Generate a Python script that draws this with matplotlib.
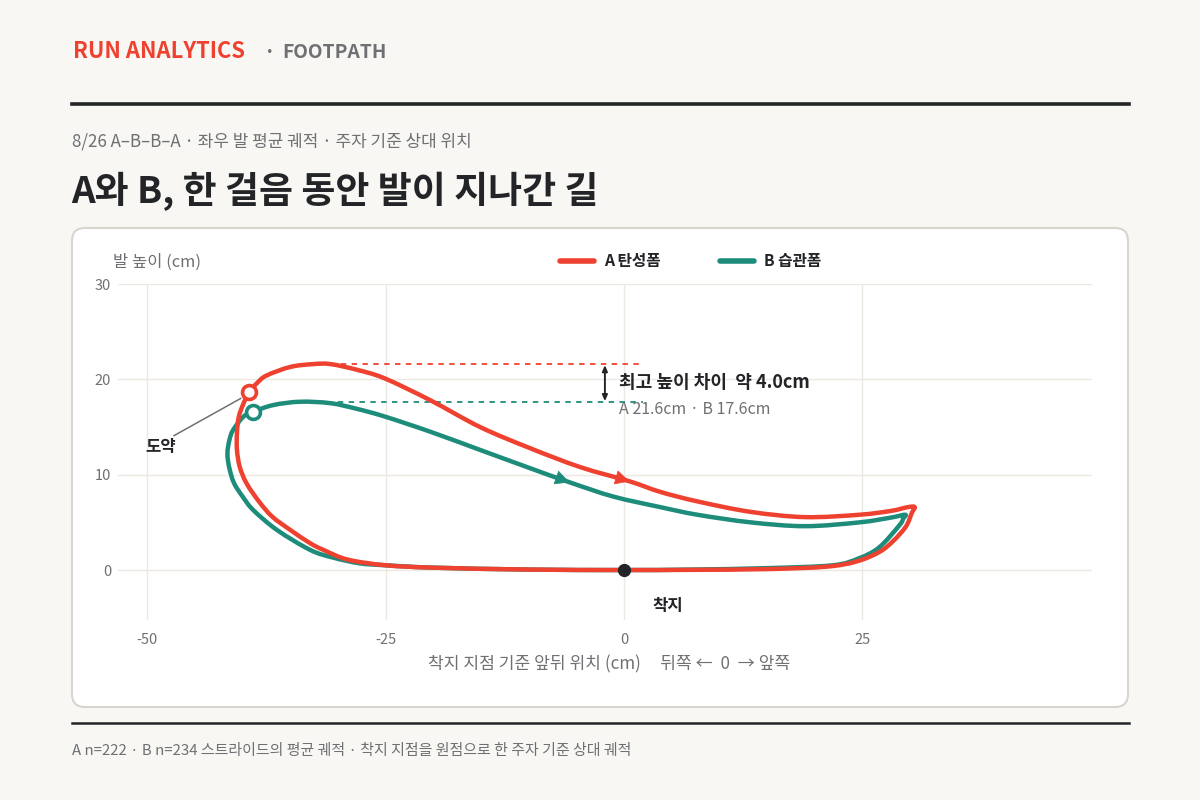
import matplotlib
matplotlib.use("Agg")
import matplotlib.pyplot as plt
from matplotlib.patches import FancyBboxPatch, PathPatch
from matplotlib.path import Path
from matplotlib.lines import Line2D

plt.rcParams['font.family'] = ['Noto Sans CJK KR', 'DejaVu Sans']
plt.rcParams['axes.unicode_minus'] = False

# colours
RED = '#ef4130'
GREEN = '#1e8c7a'
INK = '#222427'
GREY = '#6e7073'
BG = '#f8f7f4'

# A (탄성폼) loop, landing -> stance -> toe-off -> swing -> landing
A_x = [0, -10, -20, -25, -29, -31.5, -32.9, -35.0, -36.9, -38.3, -39.6, -40.3, -40.6, -40.6,
       -40.4, -39.9, -39.3, -38.5, -37.5, -35.0, -32.6, -30.8, -28.0, -25.1, -20.3, -15.1,
       -9.9, -4.6, 0.6, 3.8, 7.7, 13.3, 19.0, 24.7, 28.0, 29.8, 30.5, 30.2, 29.6, 28.3,
       26.8, 24.4, 21.2, 15.0, 7.0, 0]
A_y = [0, 0.05, 0.25, 0.5, 1.1, 2.1, 2.8, 4.2, 5.6, 7.2, 9.1, 10.8, 12.6, 14.4,
       16.1, 17.5, 18.7, 19.6, 20.4, 21.3, 21.6, 21.6, 21.0, 20.1, 17.8, 15.0,
       12.8, 10.8, 9.3, 8.2, 7.2, 6.1, 5.55, 5.8, 6.2, 6.6, 6.6, 6.0, 4.6, 3.1,
       1.9, 0.9, 0.35, 0.1, 0.02, 0]

# B (습관폼) loop
B_x = [0, -10, -20, -25, -27.7, -30.5, -32.9, -36.4, -38.9, -40.0, -40.9, -41.4, -41.6,
       -41.4, -41.0, -39.9, -38.9, -36.8, -34.0, -30.8, -28.0, -25.1, -20.3, -15.1,
       -9.9, -5.7, -1.1, 3.8, 7.7, 13.3, 19.0, 24.7, 28.0, 29.5, 29.3, 28.9, 26.8,
       24.7, 21.9, 15.0, 7.0, 0]
B_y = [0, 0.05, 0.25, 0.5, 0.7, 1.3, 2.1, 4.2, 6.3, 7.7, 9.1, 10.7, 12.2,
       13.6, 14.7, 16.1, 16.6, 17.3, 17.65, 17.5, 16.9, 16.1, 14.5, 12.6,
       10.7, 9.2, 7.7, 6.6, 5.8, 5.0, 4.6, 5.0, 5.5, 5.8, 5.4, 4.7, 2.4,
       1.25, 0.5, 0.2, 0.05, 0]

A_toeoff = (-39.3, 18.7)
B_toeoff = (-38.9, 16.6)
A_peak = 21.6
B_peak = 17.6
A_arrow = [(-4.6, 10.8), (0.6, 9.3)]
B_arrow = [(-9.9, 10.7), (-5.7, 9.2)]

x_ticks = [-50, -25, 0, 25]
y_ticks = [0, 10, 20, 30]


def smooth_loop(xs, ys):
    # closed loop through every point, drawn as cubic bezier segments
    pts = list(zip(xs[:-1], ys[:-1]))
    n = len(pts)
    verts = [pts[0]]
    codes = [Path.MOVETO]
    for i in range(n):
        p0 = pts[i - 1]
        p1 = pts[i]
        p2 = pts[(i + 1) % n]
        p3 = pts[(i + 2) % n]
        c1 = (p1[0] + (p2[0] - p0[0]) / 6, p1[1] + (p2[1] - p0[1]) / 6)
        c2 = (p2[0] - (p3[0] - p1[0]) / 6, p2[1] - (p3[1] - p1[1]) / 6)
        verts += [c1, c2, p2]
        codes += [Path.CURVE4] * 3
    return Path(verts, codes)


fig = plt.figure(figsize=(12, 8), dpi=100)
fig.patch.set_facecolor(BG)

# card behind the plot
card = FancyBboxPatch((0.72, 0.93), 10.56, 4.79,
                      boxstyle="round,pad=0,rounding_size=0.13",
                      transform=fig.dpi_scale_trans, facecolor='white',
                      edgecolor='#d8d5ce', linewidth=1.5, zorder=-5)
fig.patches.append(card)

# header
fig.text(73/1200, 1-58/800, 'RUN ANALYTICS', color=RED, fontsize=15.8,
         fontweight='bold', va='baseline')
fig.text(264/1200, 1-58/800, '·', color=GREY, fontsize=14, fontweight='bold', va='baseline')
fig.text(282/1200, 1-58/800, 'FOOTPATH', color=GREY, fontsize=13.8, fontweight='bold',
         va='baseline')
fig.add_artist(Line2D([72/1200, 1129/1200], [1-104/800]*2, color=INK, lw=2.6))
fig.text(72/1200, 1-147/800, '8/26 A–B–B–A · 좌우 발 평균 궤적 · 주자 기준 상대 위치',
         color=GREY, fontsize=12.2, va='baseline')
fig.text(71/1200, 1-203/800, 'A와 B, 한 걸음 동안 발이 지나간 길', color=INK,
         fontsize=26.6, fontweight='bold', va='baseline')

# footer
fig.add_artist(Line2D([72/1200, 1129/1200], [1-723/800]*2, color=INK, lw=1.8))
fig.text(72/1200, 1-755/800,
         'A n=222 · B n=234 스트라이드의 평균 궤적 · 착지 지점을 원점으로 한 주자 기준 상대 궤적',
         color=GREY, fontsize=10.8, va='baseline')

# axes
ax = fig.add_axes([118/1200, 1-620/800, 974/1200, 336/800])
ax.set_facecolor('none')
ax.set_xlim(-53.08, 49.1)
ax.set_ylim(-5.24, 30)
for s in ax.spines.values():
    s.set_visible(False)
ax.set_xticks(x_ticks)
ax.set_yticks(y_ticks)
ax.tick_params(length=0, labelsize=10.5, labelcolor=GREY)
ax.tick_params(axis='x', pad=9)
ax.tick_params(axis='y', pad=5)
ax.grid(True, color='#ece9e3', lw=1)
ax.set_axisbelow(True)

ax.add_patch(PathPatch(smooth_loop(B_x, B_y), fill=False, edgecolor=GREEN, lw=3.2,
                       joinstyle='round', capstyle='round', zorder=3))
ax.add_patch(PathPatch(smooth_loop(A_x, A_y), fill=False, edgecolor=RED, lw=3.2,
                       joinstyle='round', capstyle='round', zorder=4))

# direction arrows
for (p0, p1), c in [(A_arrow, RED), (B_arrow, GREEN)]:
    ax.annotate('', xy=p1, xytext=p0,
                arrowprops=dict(arrowstyle='-|>,head_length=0.8,head_width=0.4',
                                mutation_scale=12, color=c, lw=0.5,
                                shrinkA=0, shrinkB=0), zorder=5)

# peak dashed lines + difference arrow
ax.plot([-30.8, 2.0], [A_peak]*2, color=RED, lw=1.3, ls=(0, (3, 3)), zorder=2)
ax.plot([-31.2, 2.0], [B_peak]*2, color=GREEN, lw=1.3, ls=(0, (3, 3)), zorder=2)
ax.annotate('', xy=(-2.0, A_peak - 0.1), xytext=(-2.0, B_peak + 0.1),
            arrowprops=dict(arrowstyle='<|-|>,head_length=0.35,head_width=0.15',
                            color=INK, lw=1.4, shrinkA=0, shrinkB=0), zorder=5)
ax.text(-0.5, 19.7, '최고 높이 차이  약 4.0cm', color=INK, fontsize=13,
        fontweight='bold', va='center', ha='left')
ax.text(-0.5, 16.8, f'A {A_peak}cm · B {B_peak}cm', color=GREY, fontsize=11.5,
        va='center', ha='left')

# toe-off markers
ax.plot(*A_toeoff, 'o', ms=10, mfc='white', mec=RED, mew=2.6, zorder=6)
ax.plot(*B_toeoff, 'o', ms=10, mfc='white', mec=GREEN, mew=2.6, zorder=6)
ax.plot([-47.2, -40.2], [14.1, 18.0], color=GREY, lw=1.1, zorder=5)
ax.text(-48.6, 12.9, '도약', color=INK, fontsize=12, fontweight='bold',
        ha='center', va='center')

# landing point
ax.plot(0, 0, 'o', ms=8.5, color=INK, zorder=7)
ax.text(4.6, -3.8, '착지', color=INK, fontsize=12, fontweight='bold',
        ha='center', va='center')

# axis labels
fig.text(113/1200, 1-262/800, '발 높이 (cm)', color=GREY, fontsize=11.9, va='center')
fig.text(609/1200, 1-664/800, '착지 지점 기준 앞뒤 위치 (cm)     뒤쪽 ←  0  → 앞쪽',
         color=GREY, fontsize=12.3, va='center', ha='center')

# legend
ly = 1-261/800
fig.add_artist(Line2D([560/1200, 594/1200], [ly]*2, color=RED, lw=4, solid_capstyle='round'))
fig.text(604/1200, ly, 'A 탄성폼', color=INK, fontsize=11.3, fontweight='bold', va='center')
fig.add_artist(Line2D([720/1200, 754/1200], [ly]*2, color=GREEN, lw=4, solid_capstyle='round'))
fig.text(764/1200, ly, 'B 습관폼', color=INK, fontsize=11.3, fontweight='bold', va='center')

fig.savefig('out.png', dpi=100, facecolor=BG)
